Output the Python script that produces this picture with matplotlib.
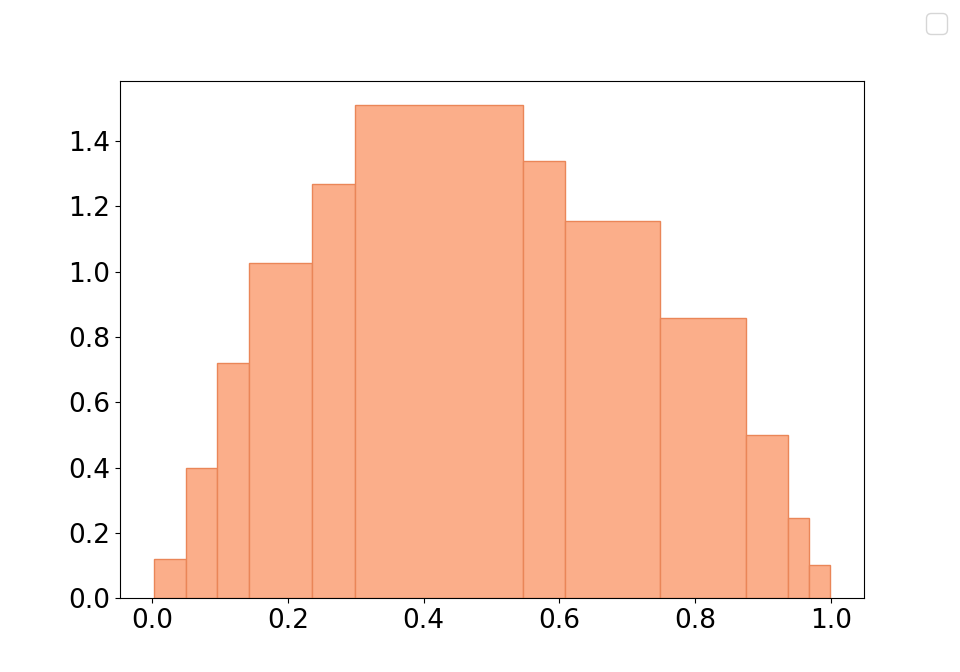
import numpy as np
import matplotlib
matplotlib.use("Agg")
import matplotlib.pyplot as plt

bin_edges = [0.0025, 0.0497, 0.0957, 0.1429, 0.235, 0.2986, 0.547, 0.609, 0.749, 0.875, 0.937, 0.968, 0.999]
densities = [0.119, 0.398, 0.720, 1.026, 1.268, 1.510, 1.339, 1.155, 0.858, 0.499, 0.245, 0.101]

plt.rcParams["font.size"] = 19
fig = plt.figure(figsize=(9.6, 6.72), dpi=100)
ax = fig.add_subplot(111)
ax.hist(bin_edges[:-1], bins=bin_edges, weights=densities,
        facecolor="#fbae8a", edgecolor="#ea8658", linewidth=1.0)
ax.tick_params(labelsize=19)
ax.set_xticks([0.0, 0.2, 0.4, 0.6, 0.8, 1.0])
ax.set_yticks([0.0, 0.2, 0.4, 0.6, 0.8, 1.0, 1.2, 1.4])
leg = fig.legend(handles=[], loc="upper right", fontsize=19)
fig.savefig("out.png", dpi=100)
